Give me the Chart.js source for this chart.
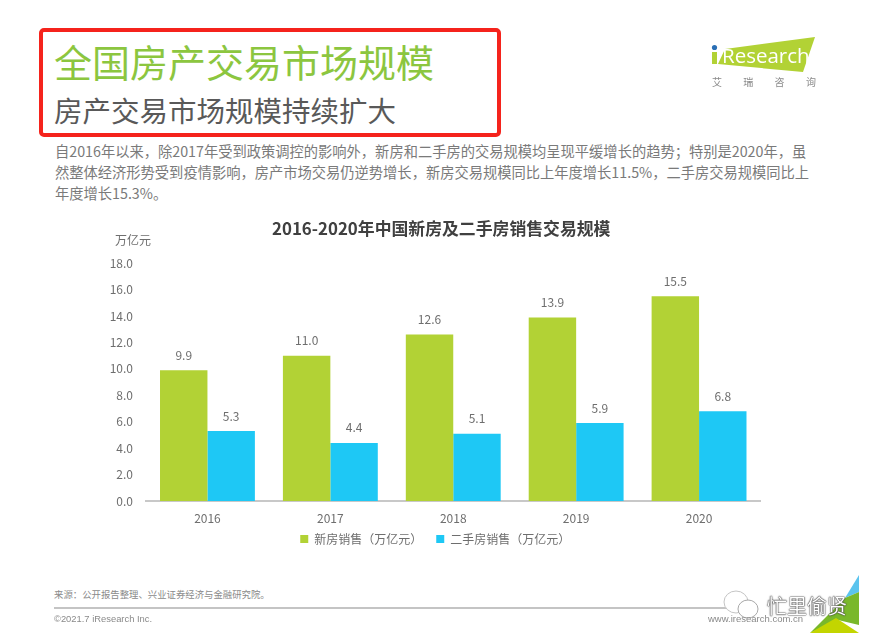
<!DOCTYPE html>
<html>
<head>
<meta charset="utf-8">
<script src="https://cdn.jsdelivr.net/npm/chart.js@4"></script>
<style>
body { margin: 0; background: #fff; font-family: "Noto Sans CJK SC", "Open Sans", sans-serif; }
#page { position: relative; width: 877px; height: 644px; overflow: hidden; }
#page div { position: absolute; white-space: nowrap; }
#chart-box { left: 0; top: 210px; width: 877px; height: 357px; }
#redbox { left: 39px; top: 28px; width: 454px; height: 101px; border: 4px solid #f5231c; border-radius: 5px; }
#title1 { left: 54px; top: 34px; font-size: 38px; line-height: 54px; color: #8cc63f; }
#title2 { left: 54px; top: 89px; font-size: 28.5px; line-height: 42px; color: #595959; }
.para { left: 55px; font-size: 14.28px; line-height: 20px; color: #7a7a7a; }
#unit { left: 115px; top: 232px; font-size: 12px; line-height: 16px; color: #6e6e6e; }
#source { left: 54px; top: 588px; font-size: 9.4px; line-height: 12px; color: #8a8a8a; }
#copy { left: 54px; top: 613px; font-size: 9.4px; line-height: 12px; color: #8a8a8a; font-family: "Liberation Sans"; }
#site { left: 708px; top: 613px; font-size: 9.5px; line-height: 12px; color: #8a8a8a; font-family: "Liberation Sans"; }
#rule { left: 54px; top: 607px; width: 700px; height: 2px; background: #c4c4c4; }
#brand { left: 712px; top: 76px; font-size: 10px; line-height: 12px; color: #8a8a8a; letter-spacing: 21.3px; }
#logo-text { left: 722px; top: 42px; font-size: 20.5px; line-height: 26px; color: #fff; font-family: "Open Sans"; }
#wm { left: 767px; top: 593px; font-size: 20px; line-height: 26px; color: #fff; text-shadow: 0 0 1px #333, 0 0 1px #333, 0 0 2px #555; }
svg { position: absolute; left: 0; top: 0; }
</style>
</head>
<body>
<div id="page">
<svg width="877" height="644">
  <polygon points="725,49 815,37 803,72 718,64" fill="#b2d235"/>
  <rect x="712" y="52" width="5" height="12" fill="#b2d235"/>
  <circle cx="714.5" cy="47.5" r="2.6" fill="#2a6fb5"/>
  <polygon points="859,575 845,598 859,592" fill="#5bc4ee"/>
  <polygon points="845,598 859,592 859,625 838,620 810,633" fill="#79b82b"/>
  <polygon points="810,633 836,618 859,633" fill="#c3d500"/>
</svg>
<div id="redbox"></div>
<div id="title1">全国房产交易市场规模</div>
<div id="title2">房产交易市场规模持续扩大</div>
<div class="para" style="top:141px">自2016年以来，除2017年受到政策调控的影响外，新房和二手房的交易规模均呈现平缓增长的趋势；特别是2020年，虽</div>
<div class="para" style="top:162px">然整体经济形势受到疫情影响，房产市场交易仍逆势增长，新房交易规模同比上年度增长11.5%，二手房交易规模同比上</div>
<div class="para" style="top:183px">年度增长15.3%。</div>
<div id="chart-box"><canvas id="myChart"></canvas></div>
<div id="unit">万亿元</div>
<div id="source">来源：公开报告整理、兴业证券经济与金融研究院。</div>
<div id="rule"></div>
<svg width="877" height="644">
  <ellipse cx="736" cy="602" rx="12" ry="11" fill="#fff" stroke="#c4c4c4"/>
  <ellipse cx="748" cy="609" rx="10" ry="9" fill="#fff" stroke="#a8a8a8"/>
</svg>
<div id="copy">©2021.7 iResearch Inc.</div>
<div id="site">www.iresearch.com.cn</div>
<div id="logo-text">Research</div>
<div id="brand">艾瑞咨询</div>
<div id="wm">忙里偷贤</div>
</div>
<script>
const years = ['2016', '2017', '2018', '2019', '2020'];
const new_home = [9.9, 11.0, 12.6, 13.9, 15.5];
const second_home = [5.3, 4.4, 5.1, 5.9, 6.8];

const font_family = '"Noto Sans CJK SC", "Open Sans", sans-serif';

// value labels above the bars, title and legend are not centred on the canvas
const bar_labels = {
    id: 'bar_labels',
    afterLayout(chart) {
        chart.titleBlock.left += 61;
        chart.titleBlock.right += 61;
        chart.legend.left += 55;
        chart.legend.right += 55;
        chart.legend.top -= 12;
        chart.legend.bottom -= 12;
    },
    afterDatasetsDraw(chart) {
        const ctx = chart.ctx;
        ctx.save();
        ctx.font = '12px ' + font_family;
        ctx.fillStyle = '#6e6e6e';
        ctx.textAlign = 'center';
        ctx.textBaseline = 'bottom';
        chart.data.datasets.forEach(function (ds, i) {
            chart.getDatasetMeta(i).data.forEach(function (bar, j) {
                ctx.fillText(ds.data[j].toFixed(1), bar.x, bar.y - 9);
            });
        });
        ctx.restore();
    }
};

const myChart = new Chart(document.getElementById('myChart'), {
    type: 'bar',
    data: {
        labels: years,
        datasets: [
            { label: '新房销售（万亿元）', data: new_home, backgroundColor: '#b2d235' },
            { label: '二手房销售（万亿元）', data: second_home, backgroundColor: '#1ec8f5' }
        ]
    },
    options: {
        responsive: true,
        maintainAspectRatio: false,
        animation: false,
        layout: { padding: { left: 0, right: 116.5, top: 0, bottom: 0 } },
        categoryPercentage: 0.772,
        barPercentage: 1,
        scales: {
            x: {
                afterFit(scale) { scale.height = 30; },
                grid: { display: false },
                border: { color: '#c8c8c8', width: 2 },
                ticks: { color: '#6e6e6e', font: { size: 12, family: font_family }, padding: 2, maxRotation: 0 }
            },
            y: {
                min: 0,
                max: 18,
                afterFit(scale) { scale.width = 146; },
                grid: { display: false },
                border: { display: false },
                ticks: {
                    stepSize: 2,
                    color: '#6e6e6e',
                    padding: 5,
                    font: { size: 12, family: font_family },
                    callback: function (v) { return v.toFixed(1); }
                }
            }
        },
        plugins: {
            title: {
                display: true,
                text: '2016-2020年中国新房及二手房销售交易规模',
                color: '#404040',
                font: { size: 16.85, weight: 'bold', family: font_family },
                padding: { top: 8, bottom: 25 }
            },
            legend: {
                position: 'bottom',
                labels: {
                    color: '#6e6e6e',
                    font: { size: 12, family: font_family },
                    usePointStyle: true,
                    pointStyle: 'rect',
                    boxWidth: 8,
                    boxHeight: 8,
                    padding: 14
                }
            },
            tooltip: { enabled: false }
        }
    },
    plugins: [bar_labels]
});
</script>
</body>
</html>
